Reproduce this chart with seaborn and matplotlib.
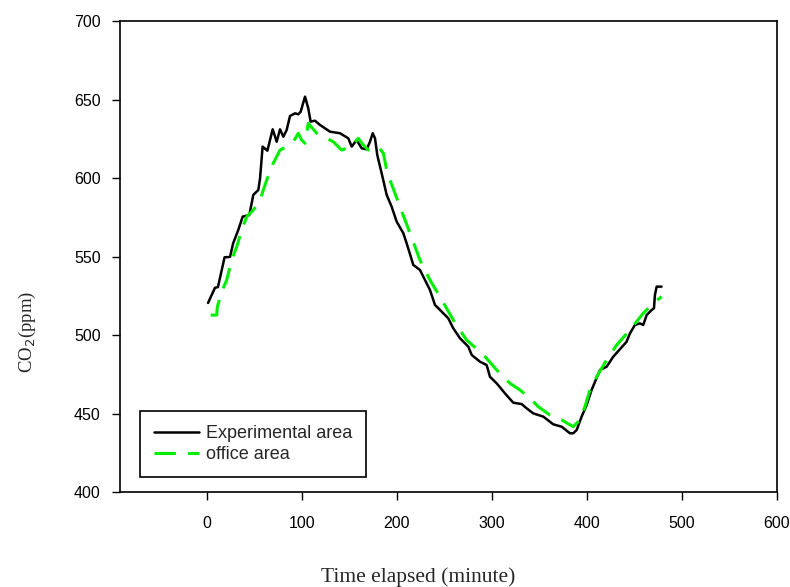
import matplotlib
matplotlib.use("Agg")
import matplotlib.pyplot as plt
import seaborn as sns
import pandas as pd

# CO2 readings (ppm) against elapsed time (minutes)
exp_time = [1.6, 8.9, 12, 19, 24.7, 28, 33.4, 38, 45, 49.2, 54.5, 56.3, 59, 64, 69.6,
            73.8, 77.3, 80.8, 84.3, 87.8, 93.1, 96.5, 99, 103.6, 107, 109.5, 114, 119.3,
            129.9, 140.4, 149.1, 152.7, 157.9, 163.2, 168.5, 171.9, 174.8, 177.2, 179.6,
            184.2, 189.5, 194.7, 200, 207, 210.5, 217.5, 224.5, 229.8, 235, 240.3, 245.5,
            254.3, 259.5, 266.6, 275.3, 278.9, 287.6, 294.6, 298.1, 305.2, 313.9, 322.6,
            331.4, 336.7, 343.6, 354.2, 364.7, 373.5, 382.2, 385.7, 389.3, 394.5, 399.8,
            405, 413.8, 420.8, 427.8, 441.8, 445.3, 450.6, 455.8, 459.3, 462.9, 468.1,
            470.6, 471.6, 473.4, 478.6]
exp_co2 = [520.4, 530.1, 530.5, 549.5, 549.7, 558.4, 566.9, 575.4, 576.4, 589.2, 592.4,
           599.8, 620, 617.4, 631, 623.1, 631, 626.3, 630.6, 639.5, 641.2, 640.6, 642.2,
           651.8, 644.4, 635.9, 636.5, 633.8, 629.5, 628.5, 625.3, 620, 624.2, 618.9,
           618.3, 623.1, 628.5, 625.3, 614.6, 603, 589.2, 581.7, 572.2, 564.8, 558.4,
           544.6, 541.4, 535, 528.7, 519.1, 516, 510.6, 504.3, 497.9, 492.6, 487.3, 483,
           480.9, 473.4, 469.2, 462.8, 456.9, 456, 453.3, 450.1, 448, 443.1, 441.6, 437.4,
           437.4, 439.5, 448, 455.4, 465, 477.7, 479.8, 486.2, 495.7, 501, 506.4, 507.4,
           506.4, 512.7, 515.9, 517, 525.5, 530.8, 530.8]

office_time = [4.4, 10.7, 11.4, 16, 21.2, 26.5, 31.8, 37, 42.3, 49.2, 54.5, 58, 63.3, 70.2,
               77.3, 84.3, 91.3, 96.5, 100, 103.6, 107, 115.9, 124, 133.3, 142.1, 152.7,
               159.6, 164.9, 170.2, 180.7, 186, 189.5, 193, 198.2, 203.5, 214, 224.5, 235,
               245.5, 259.5, 273.5, 287.6, 294.6, 305.2, 319.2, 329.7, 340.2, 349, 361.2,
               373.5, 385.7, 392.7, 398, 403.3, 410.3, 420.8, 431.3, 445.3, 459.3, 469.8,
               478.6]
office_co2 = [512.7, 512.7, 518, 527.6, 535, 547.8, 556.3, 566.9, 575.4, 579.6, 583.9,
              589.2, 598.7, 609.4, 617.8, 620, 623.1, 628.5, 624.2, 622.1, 634.8, 628.5,
              626, 623.1, 617.8, 620, 625.3, 621, 617.8, 620, 615.7, 605.1, 598.7, 590.3,
              581.7, 564.8, 547.8, 535, 524.4, 509.6, 496.8, 489.4, 485.1, 477.7, 469.2,
              465, 459.7, 454.3, 449, 445.9, 441.6, 445.9, 454.3, 465, 473.4, 484.1, 493.6,
              503.2, 513.8, 520.2, 524.4]

x_ticks = [0, 100, 200, 300, 400, 500, 600]
y_ticks = [400, 450, 500, 550, 600, 650, 700]

exp_df = pd.DataFrame({"time": exp_time, "co2": exp_co2})
office_df = pd.DataFrame({"time": office_time, "co2": office_co2})

sns.set_style("ticks")
plt.rcParams["font.family"] = ["Liberation Sans", "DejaVu Sans"]

fig = plt.figure(figsize=(7.9, 5.87), dpi=100)
ax = fig.add_axes([120 / 790, 1 - 492 / 587, (777 - 120) / 790, (492 - 21) / 587])

sns.lineplot(data=exp_df, x="time", y="co2", ax=ax, color="black", linewidth=1.8,
             label="Experimental area", sort=False, estimator=None)
sns.lineplot(data=office_df, x="time", y="co2", ax=ax, color="#00ee00", linewidth=2.2,
             label="office area", sort=False, estimator=None, dashes=False)
ax.lines[1].set_dashes([7, 4])

ax.set_xlim(-91, 600)
ax.set_ylim(400, 700)
ax.set_xticks(x_ticks)
ax.set_yticks(y_ticks)
ax.tick_params(axis="both", direction="out", length=6, width=1, labelsize=11.5,
               colors="black")
ax.tick_params(axis="x", pad=11)
ax.tick_params(axis="y", pad=8)
for side in ["top", "right", "left", "bottom"]:
    ax.spines[side].set_visible(True)
    ax.spines[side].set_color("black")
    ax.spines[side].set_linewidth(1.2)

ax.set_xlabel("Time elapsed (minute)", family="Liberation Serif", fontsize=15.5)
ax.set_ylabel("CO$_2$(ppm)", family="Liberation Serif", fontsize=13.5)
ax.xaxis.set_label_coords(0.454, -0.180)
ax.yaxis.set_label_coords(-0.1416, 0.340)
ax.xaxis.label.set_verticalalignment("center")
ax.yaxis.label.set_verticalalignment("center")

leg = ax.legend(loc="lower left", bbox_to_anchor=(0.0304, 0.0318), frameon=True,
                fancybox=False, edgecolor="black", fontsize=13, handlelength=2.5,
                handletextpad=0.4, borderpad=0.75, labelspacing=0.25, borderaxespad=0)
leg.get_frame().set_linewidth(1.2)
leg.get_frame().set_alpha(1)

fig.savefig("out.png", dpi=100)
